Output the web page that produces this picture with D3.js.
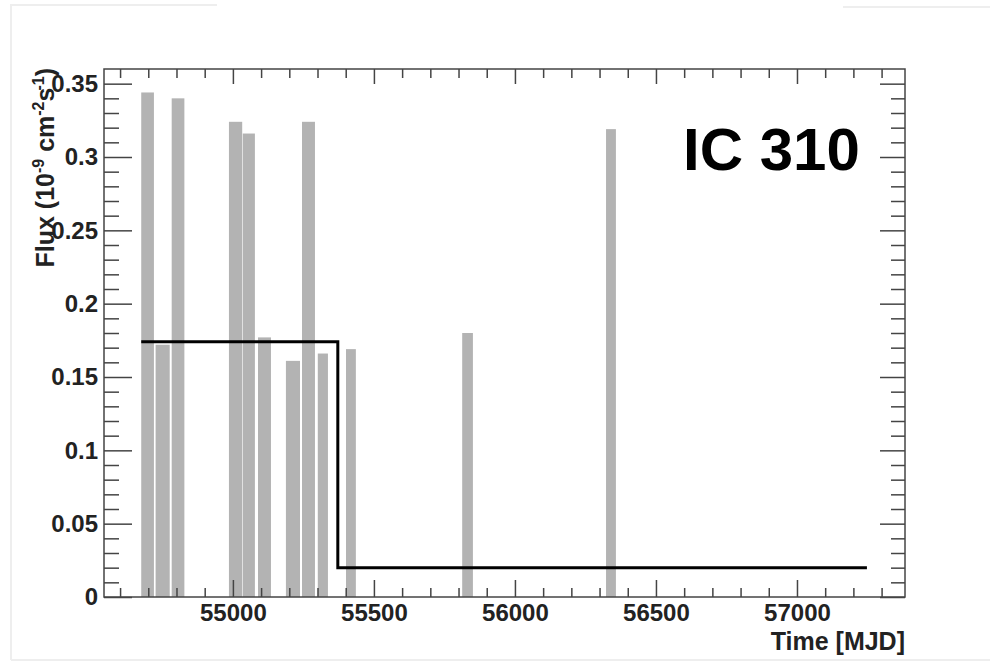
<!DOCTYPE html>
<html>
<head>
<meta charset="utf-8">
<script src="https://cdn.jsdelivr.net/npm/d3@7"></script>
<style>
  body { margin: 0; background: #fff; }
  svg text { font-family: "Liberation Sans", Arial, Helvetica, sans-serif; }
</style>
</head>
<body>
<div id="chart"></div>
<script>
// light curve bins (MJD start / end) and flux in 1e-9 cm^-2 s^-1
const binStart = [54675, 54726, 54783, 54986, 55035, 55089, 55188, 55245, 55301, 55401, 55813, 56323];
const binEnd   = [54720, 54776, 54828, 55033, 55078, 55135, 55238, 55291, 55337, 55436, 55851, 56358];
const binFlux  = [0.344, 0.172, 0.340, 0.324, 0.316, 0.177, 0.161, 0.324, 0.166, 0.169, 0.180, 0.319];

// step line (average flux levels)
const stepTime = [54675, 55372, 57248];
const stepFlux = [0.174, 0.020, 0.020];

// axis ticks
const xMajor = [55000, 55500, 56000, 56500, 57000];
const xMinor = d3.range(54600, 57400, 100).filter(v => v % 500 !== 0);
const yMajor = [0, 0.05, 0.1, 0.15, 0.2, 0.25, 0.3, 0.35];
const yMinor = d3.range(0.01, 0.36, 0.01).filter(v => Math.abs(v * 20 - Math.round(v * 20)) > 1e-6);

const width = 990, height = 662;
const mLeft = 104, mRight = 905, mTop = 69, mBottom = 597;

const svg = d3.select("#chart").append("svg")
    .attr("width", width)
    .attr("height", height);

// faint border of the captured panel
const border = "#eeeeee";
[[10, 5, 217, 5], [843, 7, 990, 7], [11, 5, 11, 660], [11, 660, 990, 660]].forEach(l => {
    svg.append("line")
        .attr("x1", l[0]).attr("y1", l[1]).attr("x2", l[2]).attr("y2", l[3])
        .attr("stroke", border).attr("stroke-width", 2);
});

const x = d3.scaleLinear().domain([54543, 57383]).range([mLeft, mRight]);
const y = d3.scaleLinear().domain([0, 0.36]).range([mBottom, mTop]);

// bars
const bins = binStart.map((s, i) => ({ s, e: binEnd[i], v: binFlux[i] }));
svg.selectAll("rect.bin")
    .data(bins)
    .enter()
    .append("rect")
    .attr("class", "bin")
    .attr("x", d => x(d.s))
    .attr("width", d => x(d.e) - x(d.s))
    .attr("y", d => y(d.v))
    .attr("height", d => y(0) - y(d.v))
    .attr("fill", "#b3b3b3");

// step line
const stepPts = stepTime.map((t, i) => [t, stepFlux[i]]);
svg.append("path")
    .datum(stepPts)
    .attr("fill", "none")
    .attr("stroke", "#000")
    .attr("stroke-width", 3)
    .attr("d", d3.line().x(d => x(d[0])).y(d => y(d[1])).curve(d3.curveStepAfter));

// axes
function styleAxis(g) {
    g.select(".domain").remove();
    g.selectAll(".tick line").attr("stroke", "#444").attr("stroke-width", 1.5);
    g.selectAll("text")
        .attr("fill", "#222")
        .attr("font-size", 24)
        .attr("font-weight", "bold");
}

const fmtY = d => String(+d.toFixed(2));

svg.append("g").attr("transform", `translate(0,${mBottom})`)
    .call(d3.axisBottom(x).tickValues(xMajor).tickSize(-17).tickPadding(7).tickFormat(d3.format("d")))
    .call(styleAxis);
svg.append("g").attr("transform", `translate(0,${mBottom})`)
    .call(d3.axisBottom(x).tickValues(xMinor).tickSize(-9).tickFormat(""))
    .call(styleAxis);
svg.append("g").attr("transform", `translate(0,${mTop})`)
    .call(d3.axisTop(x).tickValues(xMajor).tickSize(-15).tickFormat(""))
    .call(styleAxis);
svg.append("g").attr("transform", `translate(0,${mTop})`)
    .call(d3.axisTop(x).tickValues(xMinor).tickSize(-9).tickFormat(""))
    .call(styleAxis);

svg.append("g").attr("transform", `translate(${mLeft},0)`)
    .call(d3.axisLeft(y).tickValues(yMajor).tickSize(-28).tickPadding(6).tickFormat(fmtY))
    .call(styleAxis);
svg.append("g").attr("transform", `translate(${mLeft},0)`)
    .call(d3.axisLeft(y).tickValues(yMinor).tickSize(-15).tickFormat(""))
    .call(styleAxis);
svg.append("g").attr("transform", `translate(${mRight},0)`)
    .call(d3.axisRight(y).tickValues(yMajor).tickSize(-25).tickFormat(""))
    .call(styleAxis);
svg.append("g").attr("transform", `translate(${mRight},0)`)
    .call(d3.axisRight(y).tickValues(yMinor).tickSize(-14).tickFormat(""))
    .call(styleAxis);

// frame
svg.append("rect")
    .attr("x", mLeft).attr("y", mTop)
    .attr("width", mRight - mLeft).attr("height", mBottom - mTop)
    .attr("fill", "none")
    .attr("stroke", "#444")
    .attr("stroke-width", 1.5);

// axis titles
svg.append("text")
    .attr("x", mRight).attr("y", 650)
    .attr("text-anchor", "end")
    .attr("font-size", 25)
    .attr("font-weight", "bold")
    .attr("fill", "#222")
    .text("Time [MJD]");

const yTitle = svg.append("text")
    .attr("transform", "translate(54,68) rotate(-90)")
    .attr("text-anchor", "end")
    .attr("font-size", 25)
    .attr("font-weight", "bold")
    .attr("fill", "#222");
yTitle.append("tspan").text("Flux (10");
yTitle.append("tspan").attr("dy", -10).attr("font-size", 16).text("-9");
yTitle.append("tspan").attr("dy", 10).text(" cm");
yTitle.append("tspan").attr("dy", -10).attr("font-size", 16).text("-2");
yTitle.append("tspan").attr("dy", 10).text("s");
yTitle.append("tspan").attr("dy", -10).attr("dx", -3).attr("font-size", 16).text("-1");
yTitle.append("tspan").attr("dy", 10).text(")");

// source label
svg.append("text")
    .attr("x", 683).attr("y", 170)
    .attr("font-size", 60)
    .attr("font-weight", "bold")
    .attr("fill", "#000")
    .text("IC 310");
</script>
</body>
</html>
